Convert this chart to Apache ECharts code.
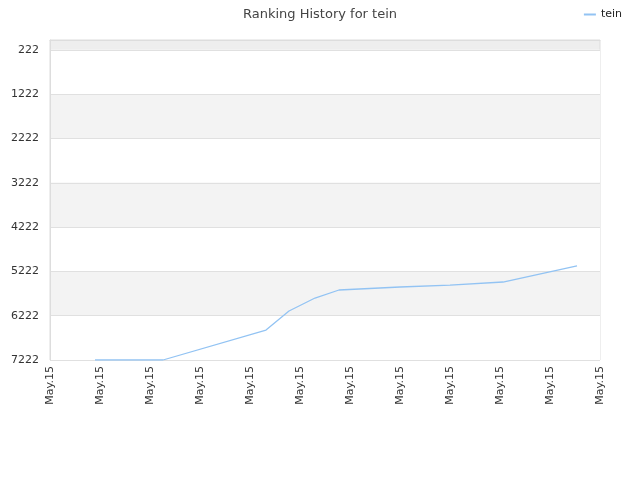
<!DOCTYPE html>
<html><head><meta charset="utf-8">
<script src="https://cdn.jsdelivr.net/npm/echarts@6/dist/echarts.min.js"></script>
<style>html,body{margin:0;padding:0;background:#fff}#c{width:640px;height:480px}</style>
</head><body><div id="c"></div>
<script>
const seriesName = 'tein';
const xPositions = [0.9, 2.26, 4.32, 4.78, 5.3, 5.78, 7, 8, 9.06, 10.54];
const ranks = [7222, 7222, 6545, 6116, 5823, 5642, 5574, 5530, 5462, 5100];
const xTickLabel = 'May.15';
const yTicks = [222, 1222, 2222, 3222, 4222, 5222, 6222, 7222];

const chart = echarts.init(document.getElementById('c'), null, {renderer: 'canvas'});
chart.setOption({
  animation: false,
  title: {text: 'Ranking History for tein', left: 'center', top: 3,
    textStyle: {fontFamily: 'DejaVu Sans', fontSize: 13, fontWeight: 'normal', color: '#444'}},
  legend: {right: 13, top: 4, itemWidth: 12, itemHeight: 2,
    textStyle: {fontFamily: 'DejaVu Sans', fontSize: 11, color: '#222'},
    data: [{name: seriesName, icon: 'rect'}]},
  grid: {left: 50, right: 40, top: 40, bottom: 120, show: true, borderColor: '#ddd', borderWidth: 1, backgroundColor: '#eeeeee'},
  xAxis: {type: 'value', min: 0, max: 11, interval: 1,
    axisLine: {show: true, lineStyle: {color: '#ddd'}},
    axisTick: {show: false}, splitLine: {show: false},
    axisLabel: {rotate: 90, formatter: () => xTickLabel, fontFamily: 'DejaVu Sans', fontSize: 11, color: '#333', margin: 6}},
  yAxis: {type: 'value', inverse: true, min: 0, max: 7222,
    axisLine: {show: true, lineStyle: {color: '#ddd'}},
    axisTick: {show: false, customValues: yTicks},
    axisLabel: {customValues: yTicks, formatter: v => String(v), fontFamily: 'DejaVu Sans', fontSize: 11, color: '#333', margin: 11},
    splitLine: {show: true, lineStyle: {color: '#e0e0e0'}},
    splitArea: {show: true, areaStyle: {color: ['#ffffff', '#f3f3f3']}}},
  series: [{name: seriesName, type: 'line', showSymbol: false, symbol: 'none',
    data: xPositions.map((x, i) => [x, ranks[i]]),
    lineStyle: {color: '#92c3f3', width: 1.3}, itemStyle: {color: '#92c3f3'}}]
});
</script></body></html>
